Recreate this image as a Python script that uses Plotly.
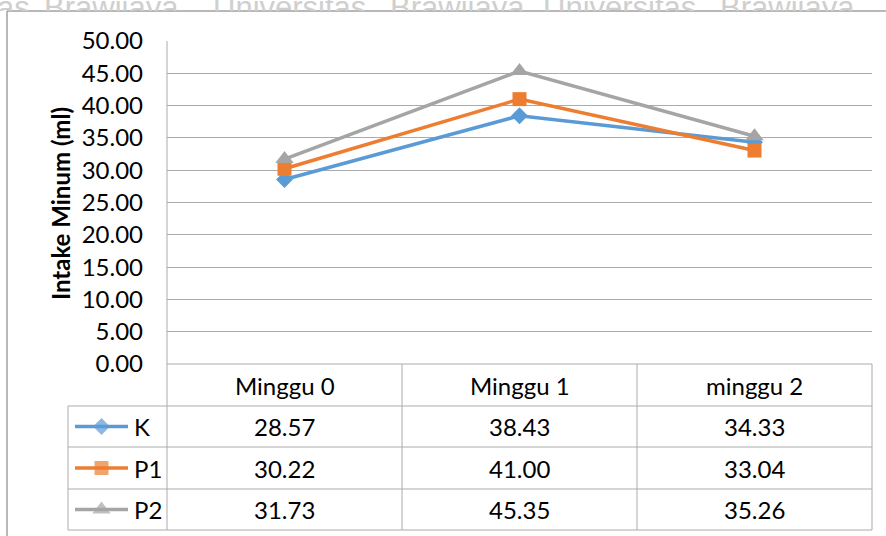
import plotly.graph_objects as go

# ---------------- data ----------------
categories = ["Minggu 0", "Minggu 1", "minggu 2"]
series_names = ["K", "P1", "P2"]
k_vals = [28.57, 38.43, 34.33]
p1_vals = [30.22, 41.00, 33.04]
p2_vals = [31.73, 45.35, 35.26]
y_tick_vals = [0, 5, 10, 15, 20, 25, 30, 35, 40, 45, 50]
y_title = "Intake Minum (ml)"
watermark_words = ["as", "Brawijaya", "Universitas", "Brawijaya", "Universitas", "Brawijaya"]

series_vals = [k_vals, p1_vals, p2_vals]

# ---------------- styles ----------------
W, H = 886, 536
colors = ["#5B9BD5", "#ED7D31", "#A5A5A5"]
symbols = ["diamond", "square", "triangle-up"]
msizes = [13, 14, 16]
FONT = "Lato"
FS = 24
GRID = "#ABABAB"


def px(x):
    return x / W


def py(y):
    return 1 - y / H


# layout geometry (pixels)
PL, PR, PT, PB = 167, 872, 41, 364
rows_y = [364, 406, 447, 489, 530]
col_x = [167, 402, 637, 872]
TL = 68

fig = go.Figure()

# main series
for name, vals, c, s, ms in zip(series_names, series_vals, colors, symbols, msizes):
    fig.add_trace(go.Scatter(
        x=categories, y=vals, mode="lines+markers", name=name,
        line=dict(color=c, width=3.5),
        marker=dict(symbol=s, size=ms, color=c, line=dict(width=0)),
        xaxis="x", yaxis="y", showlegend=False, cliponaxis=False,
    ))

# legend keys inside data table (pixel overlay axis)
for i, (c, s, ms) in enumerate(zip(colors, symbols, msizes)):
    yc = (rows_y[i + 1] + rows_y[i + 2]) / 2
    fig.add_trace(go.Scatter(
        x=[75, 101.5, 128], y=[yc, yc, yc], mode="lines+markers",
        line=dict(color=c, width=3.5),
        marker=dict(symbol=s, size=[0, ms, 0], color=c, line=dict(width=0)),
        xaxis="x2", yaxis="y2", showlegend=False, hoverinfo="skip",
    ))

# watermark strip at top (clipped by its own subplot)
wm_x = [-3, 44, 213, 390, 543, 720]
fig.add_trace(go.Scatter(
    x=wm_x, y=[10] * len(wm_x), mode="text", text=watermark_words,
    textposition="middle right",
    textfont=dict(family="Liberation Sans", size=31, color="#CFCFCF"),
    xaxis="x3", yaxis="y3", showlegend=False, hoverinfo="skip", cliponaxis=True,
))

shapes = []


def hline(x0, x1, y, color=GRID, w=1):
    shapes.append(dict(type="line", xref="paper", yref="paper",
                       x0=px(x0), x1=px(x1), y0=py(y), y1=py(y),
                       line=dict(color=color, width=w), layer="below"))


def vline(x, y0, y1, color=GRID, w=1):
    shapes.append(dict(type="line", xref="paper", yref="paper",
                       x0=px(x), x1=px(x), y0=py(y0), y1=py(y1),
                       line=dict(color=color, width=w), layer="below"))


# chart border
hline(7, 886, 11, color="#A0A0A0", w=1.5)
vline(7, 11, 536, color="#A0A0A0", w=1.5)

# data table grid
hline(PL, PR, rows_y[0])
for y in rows_y[1:]:
    hline(TL, PR, y)
vline(PL, PT, rows_y[-1])
vline(TL, rows_y[1], rows_y[-1])
for x in col_x[1:]:
    vline(x, rows_y[0], rows_y[-1])

annotations = []
# y-axis title
annotations.append(dict(
    text=y_title, xref="paper", yref="paper", x=px(60), y=py(204),
    textangle=-90, showarrow=False, xanchor="center", yanchor="middle",
    font=dict(family=FONT, size=FS, color="#000000", weight="bold"),
))
# header row
for j, cat in enumerate(categories):
    annotations.append(dict(
        text=cat, xref="paper", yref="paper",
        x=px((col_x[j] + col_x[j + 1]) / 2), y=py((rows_y[0] + rows_y[1]) / 2),
        showarrow=False, xanchor="center", yanchor="middle",
        font=dict(family=FONT, size=FS, color="#000000"),
    ))
# body rows
for i, (name, vals) in enumerate(zip(series_names, series_vals)):
    yc = (rows_y[i + 1] + rows_y[i + 2]) / 2
    annotations.append(dict(
        text=name, xref="paper", yref="paper", x=px(132), y=py(yc),
        showarrow=False, xanchor="left", yanchor="middle",
        font=dict(family=FONT, size=FS, color="#000000"),
    ))
    for j, v in enumerate(vals):
        annotations.append(dict(
            text=f"{v:.2f}", xref="paper", yref="paper",
            x=px((col_x[j] + col_x[j + 1]) / 2), y=py(yc),
            showarrow=False, xanchor="center", yanchor="middle",
            font=dict(family=FONT, size=FS, color="#000000"),
        ))

hidden = dict(visible=False, fixedrange=True, automargin=False)

fig.update_layout(
    template="none",
    width=W, height=H, autosize=False,
    margin=dict(l=0, r=0, t=0, b=0, pad=0),
    paper_bgcolor="white", plot_bgcolor="rgba(0,0,0,0)",
    showlegend=False,
    xaxis=dict(domain=[px(PL), px(PR)], range=[-0.5, 2.5], type="category",
               showticklabels=False, showgrid=False, zeroline=False,
               showline=False, ticks="", fixedrange=True, automargin=False),
    yaxis=dict(domain=[py(PB), py(PT)], range=[0, 50], tickvals=y_tick_vals,
               tickformat=".2f", showgrid=True, gridcolor=GRID, gridwidth=1,
               zeroline=False, showline=False, ticks="", ticklabelstandoff=23,
               tickfont=dict(family=FONT, size=FS, color="#000000"),
               fixedrange=True, automargin=False),
    xaxis2=dict(domain=[0, 1], range=[0, W], anchor="y2", **hidden),
    yaxis2=dict(domain=[0, 1], range=[H, 0], anchor="x2", **hidden),
    xaxis3=dict(domain=[0, 1], range=[0, W], anchor="y3", **hidden),
    yaxis3=dict(domain=[py(11), 1], range=[11, 0], anchor="x3", **hidden),
    shapes=shapes,
    annotations=annotations,
)

fig.write_html("out.html")
